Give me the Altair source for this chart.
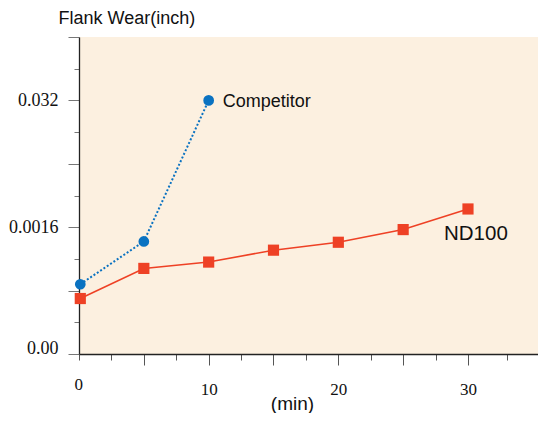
import altair as alt
import pandas as pd

# ---- data ----
comp_x = [0.1, 5, 10]
comp_y = [0.0088, 0.0142, 0.0320]
nd_x = [0.1, 5, 10, 15, 20, 25, 30]
nd_y = [0.0070, 0.0108, 0.0116, 0.0131, 0.0141, 0.0157, 0.0183]

y_ticks = [0, 0.004, 0.008, 0.012, 0.016, 0.020, 0.024, 0.028, 0.032, 0.036, 0.040]
y_major = [0, 0.016, 0.032]
y_major_labels = ["0.00", "0.0016", "0.032"]
x_ticks = [0, 2.5, 5, 7.5, 10, 12.5, 15, 17.5, 20, 22.5, 25, 27.5, 30, 33]
x_labels = [0, 10, 20, 30]

comp = pd.DataFrame({"t": comp_x, "w": comp_y, "s": "Competitor"})
nd = pd.DataFrame({"t": nd_x, "w": nd_y, "s": "ND100"})

BLUE = "#0A72C1"
RED = "#EE4125"

y_label_expr = " : ".join(
    f"abs(datum.value - {v}) < 1e-9 ? '{l}'" for v, l in zip(y_major, y_major_labels)
) + " : ''"
x_label_expr = " : ".join(
    f"abs(datum.value - {v}) < 1e-9 ? '{v}'" for v in x_labels
) + " : ''"

x_scale = alt.Scale(domain=[0, 35.4], nice=False, zero=False)
y_scale = alt.Scale(domain=[0, 0.04], nice=False)

x_axis = alt.Axis(
    values=x_ticks,
    labelExpr=x_label_expr,
    tickSize={"condition": {"test": "datum.value % 5 == 0 && datum.value > 0", "value": 11}, "value": 6},
    labelOffset={"condition": {"test": "datum.value < 1", "value": -5}, "value": 0},
    tickColor="#555",
    domainColor="#222",
    domainWidth=1.3,
    labelFont="Liberation Serif",
    labelFontSize=17,
    labelColor="#111",
    labelPadding=16,
    grid=False,
    title="(min)",
    titleFont="Liberation Sans",
    titleFontSize=19,
    titleFontWeight="normal",
    titleColor="#111",
    titleAlign="center",
    titleBaseline="alphabetic",
    titleX=213,
    titleY=55,
)
y_axis = alt.Axis(
    values=y_ticks,
    labelExpr=y_label_expr,
    tickSize={"condition": {"test": "abs(datum.value/0.008 - round(datum.value/0.008)) < 1e-6", "value": 11}, "value": 5},
    labelOffset={"condition": {"test": "datum.value == 0", "value": -6}, "value": 0},
    tickColor="#777",
    domainColor="#222",
    domainWidth=1.3,
    labelFont="Liberation Serif",
    labelFontSize=18,
    labelColor="#111",
    labelPadding=10,
    grid=False,
    title="Flank Wear(inch)",
    titleAngle=0,
    titleAlign="left",
    titleBaseline="alphabetic",
    titleX=-21,
    titleY=-14,
    titleFont="Liberation Sans",
    titleFontSize=18,
    titleFontWeight="normal",
    titleColor="#111",
)

X = alt.X("t:Q", scale=x_scale, axis=x_axis)
Y = alt.Y("w:Q", scale=y_scale, axis=y_axis)

comp_line = alt.Chart(comp).mark_line(color=BLUE, strokeWidth=2, strokeDash=[2, 2]).encode(x=X, y=Y)
comp_pts = alt.Chart(comp).mark_point(shape="circle", filled=True, size=115, color=BLUE, opacity=1).encode(x=X, y=Y)
nd_line = alt.Chart(nd).mark_line(color=RED, strokeWidth=1.6).encode(x=X, y=Y)
nd_pts = alt.Chart(nd).mark_point(shape="square", filled=True, size=125, color=RED, opacity=1).encode(x=X, y=Y)

comp_lab = alt.Chart(comp.tail(1)).mark_text(
    align="left", baseline="middle", dx=14, dy=2, font="Liberation Sans", fontSize=18, color="#111"
).encode(x=X, y=Y, text="s:N")
nd_lab = alt.Chart(nd.tail(1)).mark_text(
    align="left", baseline="middle", dx=-24, dy=25, font="Liberation Sans", fontSize=20.5, color="#111"
).encode(x=X, y=Y, text="s:N")

chart = alt.layer(comp_line, nd_line, comp_pts, nd_pts, comp_lab, nd_lab).properties(
    width=459,
    height=317,
    autosize=alt.AutoSizeParams(type="none"),
    padding={"left": 71, "top": 29, "right": 0, "bottom": 59},
).configure_view(fill="#FCF0E0", stroke=None)

chart.save("out.html", embed_options={"renderer": "svg", "actions": False})
